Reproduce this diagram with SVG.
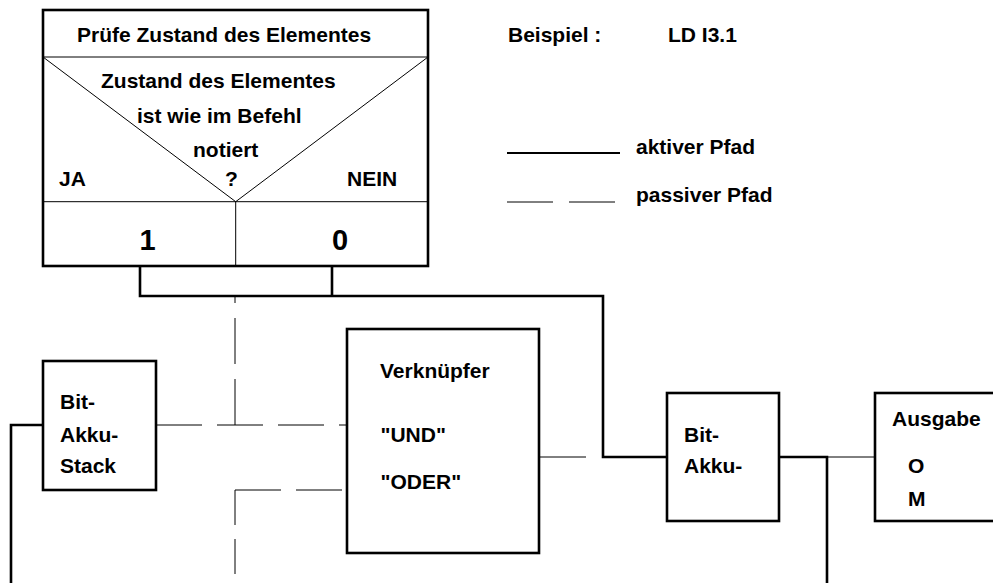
<svg xmlns="http://www.w3.org/2000/svg" width="993" height="583" viewBox="0 0 993 583">
<style>
text{font-family:"Liberation Sans",Arial,sans-serif;font-weight:bold;font-size:21px;fill:#000}
.big{font-size:29px}
.box{fill:#fff;stroke:#000;stroke-width:2.6}
.thin{fill:none;stroke:#000;stroke-width:1}
.thick{fill:none;stroke:#000;stroke-width:2.6}
.dash{fill:none;stroke:#000;stroke-width:1;stroke-dasharray:46 15}
</style>
<rect width="993" height="583" fill="#fff"/>
<g id="connectors">
<path class="thick" d="M140,266 V296 H332 V266 M332,296 H603 V457 H667"/>
<path class="thick" d="M779,457 H827 V583"/>
<path class="thick" d="M43,425 H11 V583"/>
<path class="thin" d="M827,457 H875"/>
<path class="thin" d="M539,457 H586"/>
<path class="dash" d="M156,425 H347"/>
<path class="dash" d="M235,425 V297"/>
<path class="dash" d="M235,490 H347"/>
<path class="thin" style="stroke-dasharray:35 14" d="M235,490 V583"/>
</g>
<g id="decision">
<rect class="box" x="43" y="10" width="385" height="256"/>
<path class="thin" d="M43,57 H428 M43,201.7 H428 M235.7,201.7 V266 M43,57 L235.7,201.7 L428,57"/>
<text x="77" y="42">Prüfe Zustand des Elementes</text>
<text x="101" y="88">Zustand des Elementes</text>
<text x="137" y="123">ist wie im Befehl</text>
<text x="193" y="157">notiert</text>
<text x="59" y="186">JA</text>
<text x="225" y="186">?</text>
<text x="347" y="186">NEIN</text>
<text class="big" x="147.5" y="250" text-anchor="middle">1</text>
<text class="big" x="340" y="250" text-anchor="middle">0</text>
</g>
<g id="legend">
<text x="508" y="42">Beispiel :</text>
<text x="668" y="42">LD I3.1</text>
<path class="thick" style="stroke-width:2" d="M507,153 H620"/>
<text x="636" y="154">aktiver Pfad</text>
<path class="thin" d="M507,202 H553 M569,202 H615"/>
<text x="636" y="202">passiver Pfad</text>
</g>
<g id="bit-akku-stack">
<rect class="box" x="43" y="361" width="113" height="129"/>
<text x="60" y="409">Bit-</text>
<text x="60" y="442">Akku-</text>
<text x="60" y="473">Stack</text>
</g>
<g id="verknuepfer">
<rect class="box" x="347" y="329" width="192" height="224"/>
<text x="380" y="378">Verknüpfer</text>
<text x="380.5" y="442">"UND"</text>
<text x="380.5" y="489">"ODER"</text>
</g>
<g id="bit-akku">
<rect class="box" x="667" y="393" width="112" height="128"/>
<text x="684" y="442">Bit-</text>
<text x="684" y="473">Akku-</text>
</g>
<g id="ausgabe">
<rect class="box" x="875" y="393" width="130" height="128"/>
<text x="892" y="426">Ausgabe</text>
<text x="908" y="473">O</text>
<text x="908" y="506">M</text>
</g>
</svg>
